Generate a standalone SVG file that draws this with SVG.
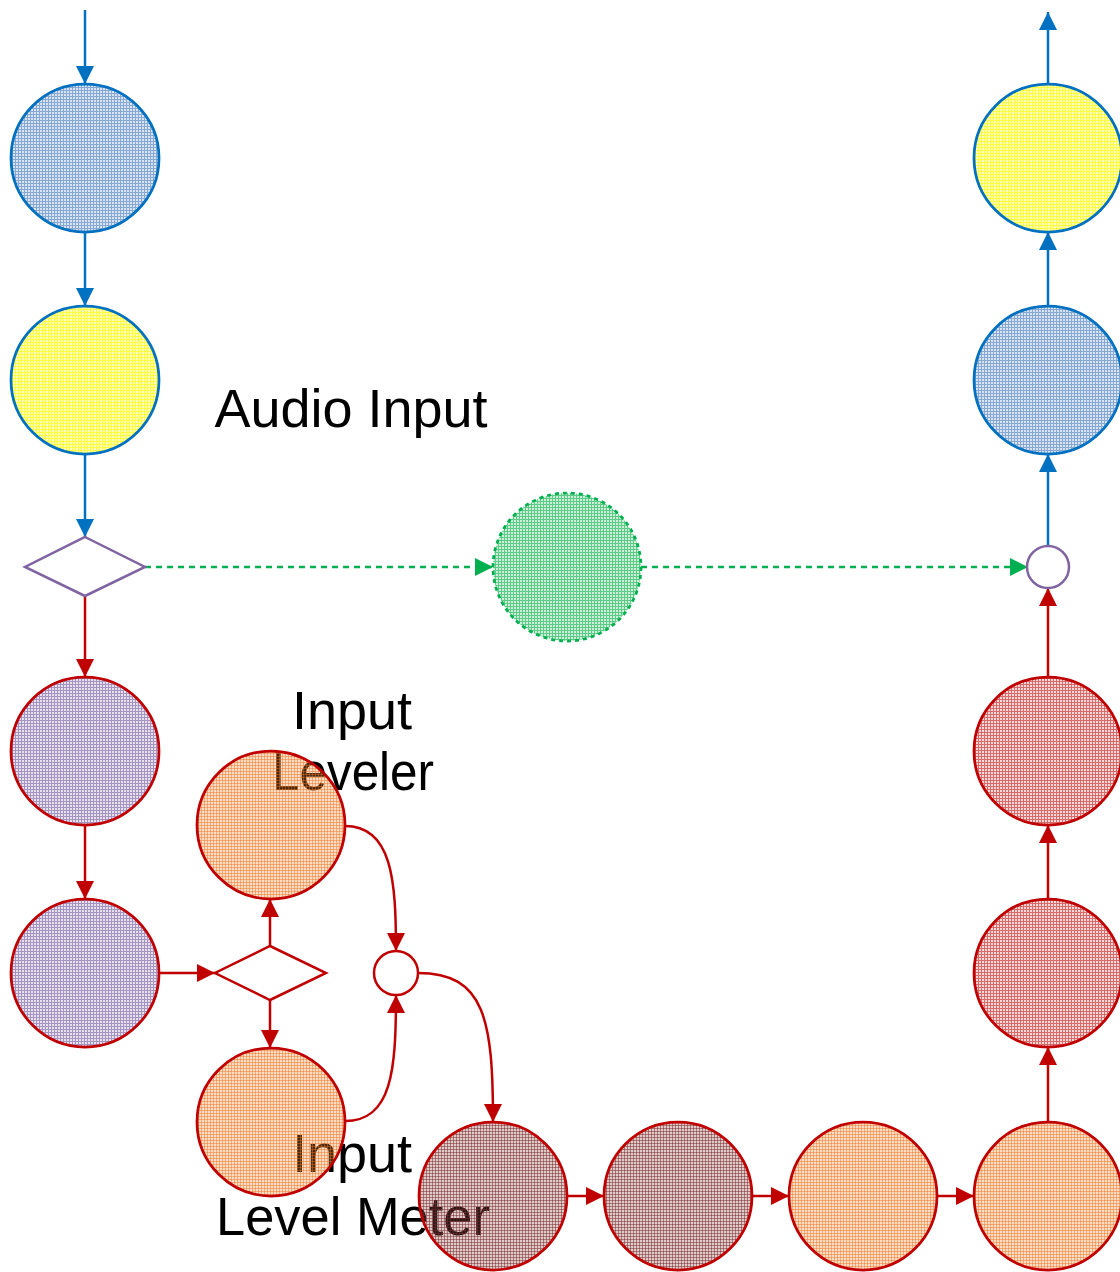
<svg xmlns="http://www.w3.org/2000/svg" width="1120" height="1272" viewBox="0 0 1120 1272">
<style>
.lbl{font-family:"Liberation Sans",Arial,sans-serif;font-size:54px;fill:#000;text-anchor:middle}
.nb{stroke:#0070C0;stroke-width:2.75}
.nr{stroke:#C00000;stroke-width:2.75}
.ng{stroke:#00B050;stroke-width:2.75;stroke-dasharray:4 4}
.cb{stroke:#0070C0;stroke-width:2.5;fill:none}
.cr{stroke:#C00000;stroke-width:2.5;fill:none}
.cg{stroke:#00B050;stroke-width:2.5;fill:none;stroke-dasharray:6 5}
</style>
<defs>
<marker id="ab" markerUnits="userSpaceOnUse" markerWidth="18" markerHeight="18" refX="18" refY="9" orient="auto"><path d="M0,0L18,9L0,18z" fill="#0070C0"/></marker>
<marker id="ar" markerUnits="userSpaceOnUse" markerWidth="18" markerHeight="18" refX="18" refY="9" orient="auto"><path d="M0,0L18,9L0,18z" fill="#C00000"/></marker>
<marker id="ag" markerUnits="userSpaceOnUse" markerWidth="18" markerHeight="18" refX="18" refY="9" orient="auto"><path d="M0,0L18,9L0,18z" fill="#00B050"/></marker>
<pattern id="pb" width="3" height="3" patternUnits="userSpaceOnUse"><rect width="3" height="3" fill="#D3E0F0" fill-opacity="0.85"/><rect width="3" height="1" fill="#86A8D2"/><rect width="1" height="3" fill="#86A8D2"/></pattern>
<pattern id="py" width="3" height="3" patternUnits="userSpaceOnUse"><rect width="3" height="3" fill="#FFFFB0" fill-opacity="0.85"/><rect width="3" height="1" fill="#FFFF40"/><rect width="1" height="3" fill="#FFFF40"/></pattern>
<pattern id="pp" width="3" height="3" patternUnits="userSpaceOnUse"><rect width="3" height="3" fill="#E2DCEC" fill-opacity="0.85"/><rect width="3" height="1" fill="#A593C0"/><rect width="1" height="3" fill="#A593C0"/></pattern>
<pattern id="pg" width="3" height="3" patternUnits="userSpaceOnUse"><rect width="3" height="3" fill="#C6EED3" fill-opacity="0.85"/><rect width="3" height="1" fill="#5CCB87"/><rect width="1" height="3" fill="#5CCB87"/></pattern>
<pattern id="po" width="3" height="3" patternUnits="userSpaceOnUse"><rect width="3" height="3" fill="#F58E37" fill-opacity="0.3"/><rect width="3" height="1" fill="#E87020" fill-opacity="0.45"/><rect width="1" height="3" fill="#E87020" fill-opacity="0.45"/></pattern>
<pattern id="pr" width="3" height="3" patternUnits="userSpaceOnUse"><rect width="3" height="3" fill="#F6D3D3" fill-opacity="0.85"/><rect width="3" height="1" fill="#D86A6A"/><rect width="1" height="3" fill="#D86A6A"/></pattern>
<pattern id="pn" width="3" height="3" patternUnits="userSpaceOnUse"><rect width="3" height="3" fill="#984E4E" fill-opacity="0.3"/><rect width="3" height="1" fill="#772A2A" fill-opacity="0.5"/><rect width="1" height="3" fill="#772A2A" fill-opacity="0.5"/></pattern>
</defs>
<g id="labels">
<text class="lbl" x="351" y="427">Audio Input</text>
<text class="lbl" x="352" y="729">Input</text>
<text class="lbl" x="353" y="790" textLength="162" lengthAdjust="spacingAndGlyphs">Leveler</text>
<text class="lbl" x="352" y="1172">Input</text>
<text class="lbl" x="353" y="1235" textLength="274" lengthAdjust="spacingAndGlyphs">Level Meter</text>
</g>
<g id="connectors">
<line class="cb" x1="85" y1="10" x2="85" y2="84" marker-end="url(#ab)"/>
<line class="cb" x1="85" y1="232" x2="85" y2="306" marker-end="url(#ab)"/>
<line class="cb" x1="85" y1="454" x2="85" y2="537" marker-end="url(#ab)"/>
<line class="cg" x1="145" y1="567" x2="493" y2="567" marker-end="url(#ag)"/>
<line class="cg" x1="641" y1="567" x2="1028" y2="567" marker-end="url(#ag)"/>
<line class="cr" x1="85" y1="596" x2="85" y2="677" marker-end="url(#ar)"/>
<line class="cr" x1="85" y1="825" x2="85" y2="899" marker-end="url(#ar)"/>
<line class="cr" x1="159" y1="973" x2="215" y2="973" marker-end="url(#ar)"/>
<line class="cr" x1="270" y1="946" x2="270" y2="899" marker-end="url(#ar)"/>
<line class="cr" x1="270" y1="1000" x2="270" y2="1048" marker-end="url(#ar)"/>
<path class="cr" d="M345,826 C392,826 396,880 396,951" marker-end="url(#ar)"/>
<path class="cr" d="M345,1121 C392,1121 396,1070 396,995" marker-end="url(#ar)"/>
<path class="cr" d="M418,973 C485,973 493,1020 493,1122" marker-end="url(#ar)"/>
<line class="cr" x1="567" y1="1196" x2="604" y2="1196" marker-end="url(#ar)"/>
<line class="cr" x1="752" y1="1196" x2="789" y2="1196" marker-end="url(#ar)"/>
<line class="cr" x1="937" y1="1196" x2="974" y2="1196" marker-end="url(#ar)"/>
<line class="cr" x1="1048" y1="1122" x2="1048" y2="1047" marker-end="url(#ar)"/>
<line class="cr" x1="1048" y1="899" x2="1048" y2="825" marker-end="url(#ar)"/>
<line class="cr" x1="1048" y1="677" x2="1048" y2="588" marker-end="url(#ar)"/>
<line class="cb" x1="1048" y1="546" x2="1048" y2="454" marker-end="url(#ab)"/>
<line class="cb" x1="1048" y1="306" x2="1048" y2="232" marker-end="url(#ab)"/>
<line class="cb" x1="1048" y1="84" x2="1048" y2="12" marker-end="url(#ab)"/>
</g>
<g id="n1"><circle class="nb" cx="85" cy="158" r="74" fill="url(#pb)"/></g>
<g id="n2"><circle class="nb" cx="85" cy="380" r="74" fill="url(#py)"/></g>
<g id="d1"><path d="M85,537L145,567L85,596L25,567z" fill="#fff" stroke="#8064A2" stroke-width="2.5"/></g>
<g id="n3"><circle class="ng" cx="567" cy="567" r="74" fill="url(#pg)"/></g>
<g id="j1"><circle cx="1048" cy="567" r="21" fill="#fff" stroke="#8064A2" stroke-width="2.5"/></g>
<g id="n4"><circle class="nr" cx="85" cy="751" r="74" fill="url(#pp)"/></g>
<g id="n5"><circle class="nr" cx="85" cy="973" r="74" fill="url(#pp)"/></g>
<g id="d2"><path d="M270,946L326,973L270,1000L215,973z" fill="#fff" stroke="#C00000" stroke-width="2.5"/></g>
<g id="n6"><circle class="nr" cx="271" cy="825" r="74" fill="url(#po)"/></g>
<g id="n7"><circle class="nr" cx="271" cy="1122" r="74" fill="url(#po)"/></g>
<g id="j2"><circle cx="396" cy="973" r="22" fill="#fff" stroke="#C00000" stroke-width="2.5"/></g>
<g id="n8"><circle class="nr" cx="493" cy="1196" r="74" fill="url(#pn)"/></g>
<g id="n9"><circle class="nr" cx="678" cy="1196" r="74" fill="url(#pn)"/></g>
<g id="n10"><circle class="nr" cx="863" cy="1196" r="74" fill="url(#po)"/></g>
<g id="n11"><circle class="nr" cx="1048" cy="1196" r="74" fill="url(#po)"/></g>
<g id="n12"><circle class="nr" cx="1048" cy="973" r="74" fill="url(#pr)"/></g>
<g id="n13"><circle class="nr" cx="1048" cy="751" r="74" fill="url(#pr)"/></g>
<g id="n14"><circle class="nb" cx="1048" cy="380" r="74" fill="url(#pb)"/></g>
<g id="n15"><circle class="nb" cx="1048" cy="158" r="74" fill="url(#py)"/></g>
</svg>
